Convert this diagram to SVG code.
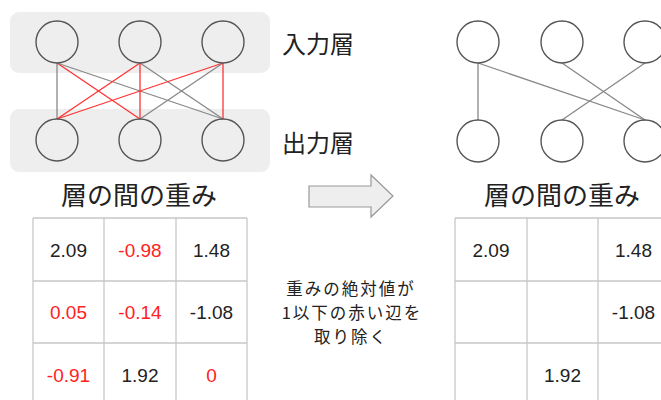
<svg xmlns="http://www.w3.org/2000/svg" width="661" height="400" viewBox="0 0 661 400">
<style>
.bg{fill:#eeeeee;stroke:none}
.node{fill:none;stroke:#555;stroke-width:1.4}
.e{stroke:#888;stroke-width:1.3;fill:none}
.r{stroke:#f33;stroke-width:1.3;fill:none}
.grid{stroke:#c8c8c8;stroke-width:1.3;fill:none}
.jp{font-family:"Noto Sans CJK JP","Noto Sans",sans-serif;fill:#222}
.num{font-family:"Liberation Sans",Arial,sans-serif;font-size:19px;text-anchor:middle;fill:#222}
.red{fill:#f22}
</style>
<rect class="bg" x="10" y="12" width="260" height="61" rx="9"/>
<rect class="bg" x="10" y="109" width="260" height="63" rx="9"/>
<g id="connectors">
<line class="e" x1="57" y1="63" x2="57" y2="119"/>
<line class="r" x1="57" y1="63" x2="140" y2="119"/>
<line class="e" x1="57" y1="63" x2="223" y2="119"/>
<line class="r" x1="140" y1="63" x2="57" y2="119"/>
<line class="r" x1="140" y1="63" x2="140" y2="119"/>
<line class="e" x1="140" y1="63" x2="223" y2="119"/>
<line class="r" x1="223" y1="63" x2="57" y2="119"/>
<line class="e" x1="223" y1="63" x2="140" y2="119"/>
<line class="r" x1="223" y1="63" x2="223" y2="119"/>
<line class="e" x1="478" y1="63" x2="478" y2="120"/>
<line class="e" x1="478" y1="63" x2="645" y2="120"/>
<line class="e" x1="562" y1="63" x2="645" y2="120"/>
<line class="e" x1="645" y1="63" x2="562" y2="120"/>
</g>
<g id="L-in1"><circle class="node" cx="57" cy="42" r="21"/></g>
<g id="L-in2"><circle class="node" cx="140" cy="42" r="21"/></g>
<g id="L-in3"><circle class="node" cx="223" cy="42" r="21"/></g>
<g id="L-out1"><circle class="node" cx="57" cy="140" r="21"/></g>
<g id="L-out2"><circle class="node" cx="140" cy="140" r="21"/></g>
<g id="L-out3"><circle class="node" cx="223" cy="140" r="21"/></g>
<g id="R-in1"><circle class="node" cx="478" cy="42" r="21"/></g>
<g id="R-in2"><circle class="node" cx="562" cy="42" r="21"/></g>
<g id="R-in3"><circle class="node" cx="645" cy="42" r="21"/></g>
<g id="R-out1"><circle class="node" cx="478" cy="141" r="21"/></g>
<g id="R-out2"><circle class="node" cx="562" cy="141" r="21"/></g>
<g id="R-out3"><circle class="node" cx="645" cy="141" r="21"/></g>
<text class="jp" x="282" y="53" font-size="24">入力層</text>
<text class="jp" x="282" y="152" font-size="24">出力層</text>
<text class="jp" x="139" y="205" font-size="26" text-anchor="middle">層の間の重み</text>
<text class="jp" x="562" y="205" font-size="26" text-anchor="middle">層の間の重み</text>
<polygon points="309,186 371,186 371,175 393,196 371,217 371,207 309,207" fill="#eeeeee" stroke="#999" stroke-width="1.2"/>
<g class="jp" font-size="16.5" letter-spacing="2" text-anchor="middle">
<text x="351" y="295">重みの絶対値が</text>
<text x="352" y="319">1以下の赤い辺を</text>
<text x="351" y="343">取り除く</text>
</g>
<g id="table-left">
<path class="grid" d="M33,218H247M33,281H247M33,343H247M33,218V405M104,218V405M176,218V405M247,218V405"/>
<text class="num" x="68.5" y="257">2.09</text>
<text class="num red" x="140" y="257">-0.98</text>
<text class="num" x="211.5" y="257">1.48</text>
<text class="num red" x="68.5" y="319">0.05</text>
<text class="num red" x="140" y="319">-0.14</text>
<text class="num" x="211.5" y="319">-1.08</text>
<text class="num red" x="68.5" y="382">-0.91</text>
<text class="num" x="140" y="382">1.92</text>
<text class="num red" x="211.5" y="382">0</text>
</g>
<g id="table-right">
<path class="grid" d="M455,218H670M455,281H670M455,343H670M455,218V405M527,218V405M598,218V405"/>
<text class="num" x="491" y="257">2.09</text>
<text class="num" x="633.5" y="257">1.48</text>
<text class="num" x="633.5" y="319">-1.08</text>
<text class="num" x="562.5" y="382">1.92</text>
</g>
</svg>
